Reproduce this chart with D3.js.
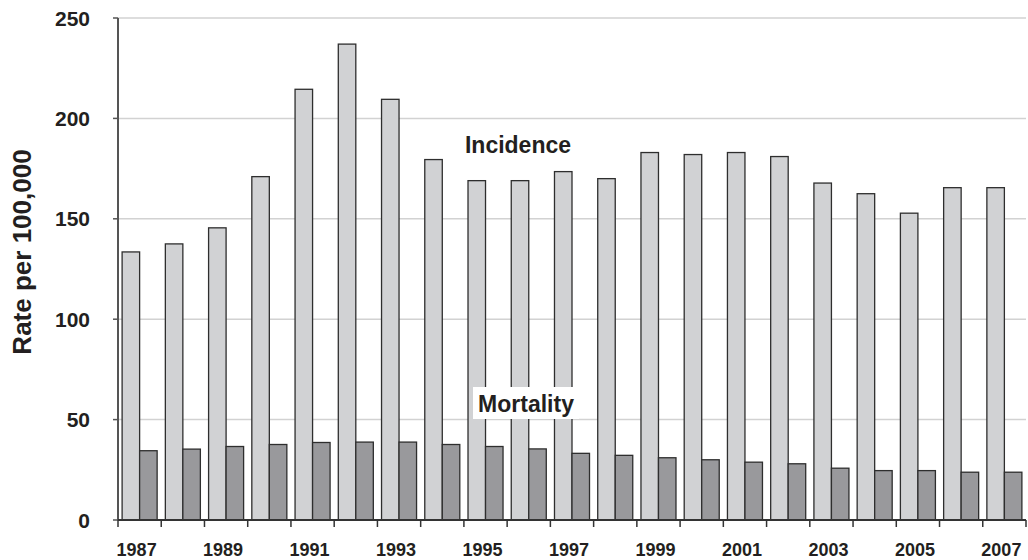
<!DOCTYPE html>
<html>
<head>
<meta charset="utf-8">
<script src="https://cdn.jsdelivr.net/npm/d3@7"></script>
<style>
  body { margin: 0; background: #fff; }
  text { font-family: "Liberation Sans", Arial, sans-serif; font-weight: bold; fill: #231f20; }
</style>
</head>
<body>
<div id="chart"></div>
<script>
var years = [1987, 1988, 1989, 1990, 1991, 1992, 1993, 1994, 1995, 1996, 1997,
             1998, 1999, 2000, 2001, 2002, 2003, 2004, 2005, 2006, 2007];
var incidence = [133.5, 137.5, 145.5, 171, 214.5, 237, 209.5, 179.5, 169, 169, 173.5,
                 170, 183, 182, 183, 181, 167.8, 162.5, 152.8, 165.5, 165.5];
var mortality = [34.5, 35.3, 36.6, 37.6, 38.6, 38.8, 38.8, 37.6, 36.6, 35.4, 33.2,
                 32.2, 31, 30, 28.8, 28, 25.8, 24.6, 24.6, 23.8, 23.8];
var yTicks = [0, 50, 100, 150, 200, 250];
var labelYears = [1987, 1989, 1991, 1993, 1995, 1997, 1999, 2001, 2003, 2005, 2007];

var width = 1028, height = 560;
var margin = { left: 118, right: 2, top: 18, bottom: 40 };

var svg = d3.select("#chart").append("svg")
    .attr("width", width)
    .attr("height", height);

var xScale = d3.scaleBand()
    .domain(years)
    .range([margin.left, width - margin.right])
    .paddingInner(0.19)
    .paddingOuter(0.095);

var yScale = d3.scaleLinear()
    .domain([0, 250])
    .range([height - margin.bottom, margin.top]);

var step = xScale.step();
var bw = xScale.bandwidth() / 2;

// gridlines
svg.append("g")
    .selectAll("line")
    .data(yTicks.slice(1))
    .enter().append("line")
    .attr("x1", margin.left)
    .attr("x2", width - margin.right)
    .attr("y1", function (d) { return yScale(d); })
    .attr("y2", function (d) { return yScale(d); })
    .attr("stroke", "#d2d2d2")
    .attr("stroke-width", 1.5);

// bars
svg.append("g")
    .selectAll("rect")
    .data(years)
    .enter().append("rect")
    .attr("x", function (d) { return xScale(d); })
    .attr("y", function (d, i) { return yScale(incidence[i]); })
    .attr("width", bw)
    .attr("height", function (d, i) { return yScale(0) - yScale(incidence[i]); })
    .attr("fill", "#d1d2d4")
    .attr("stroke", "#2e2e2e")
    .attr("stroke-width", 1.3);

svg.append("g")
    .selectAll("rect")
    .data(years)
    .enter().append("rect")
    .attr("x", function (d) { return xScale(d) + bw; })
    .attr("y", function (d, i) { return yScale(mortality[i]); })
    .attr("width", bw)
    .attr("height", function (d, i) { return yScale(0) - yScale(mortality[i]); })
    .attr("fill", "#99999c")
    .attr("stroke", "#2e2e2e")
    .attr("stroke-width", 1.3);

// y axis
svg.append("line")
    .attr("x1", margin.left).attr("x2", margin.left)
    .attr("y1", yScale(250)).attr("y2", yScale(0))
    .attr("stroke", "#555").attr("stroke-width", 2);

svg.append("g")
    .selectAll("line")
    .data(yTicks)
    .enter().append("line")
    .attr("x1", margin.left - 5).attr("x2", margin.left)
    .attr("y1", function (d) { return yScale(d); })
    .attr("y2", function (d) { return yScale(d); })
    .attr("stroke", "#555").attr("stroke-width", 1.5);

svg.append("g")
    .selectAll("text")
    .data(yTicks)
    .enter().append("text")
    .attr("x", 90)
    .attr("y", function (d) { return yScale(d); })
    .attr("dy", "0.36em")
    .attr("text-anchor", "end")
    .style("font-size", "21px")
    .text(function (d) { return d; });

// x axis
svg.append("line")
    .attr("x1", margin.left).attr("x2", width - margin.right)
    .attr("y1", yScale(0)).attr("y2", yScale(0))
    .attr("stroke", "#333").attr("stroke-width", 2);

var boundaries = years.map(function (d) { return xScale(d) - step * 0.095; });
boundaries.push(width - margin.right);

svg.append("g")
    .selectAll("line")
    .data(boundaries)
    .enter().append("line")
    .attr("x1", function (d) { return d; })
    .attr("x2", function (d) { return d; })
    .attr("y1", yScale(0))
    .attr("y2", yScale(0) + 7)
    .attr("stroke", "#333").attr("stroke-width", 1.5);

svg.append("g")
    .selectAll("text")
    .data(labelYears)
    .enter().append("text")
    .attr("x", function (d) { return xScale(d) + xScale.bandwidth() / 2 - 3; })
    .attr("y", 556)
    .attr("text-anchor", "middle")
    .style("font-size", "18px")
    .text(function (d) { return d; });

// y title
svg.append("text")
    .attr("transform", "translate(31,252) rotate(-90)")
    .attr("text-anchor", "middle")
    .style("font-size", "26px")
    .text("Rate per 100,000");

// series labels
svg.append("text")
    .attr("x", 518)
    .attr("y", 153)
    .attr("text-anchor", "middle")
    .style("font-size", "23px")
    .text("Incidence");

svg.append("rect")
    .attr("x", 473)
    .attr("y", 387)
    .attr("width", 106)
    .attr("height", 32)
    .attr("fill", "#fff");

svg.append("text")
    .attr("x", 526)
    .attr("y", 412)
    .attr("text-anchor", "middle")
    .style("font-size", "23px")
    .text("Mortality");
</script>
</body>
</html>
